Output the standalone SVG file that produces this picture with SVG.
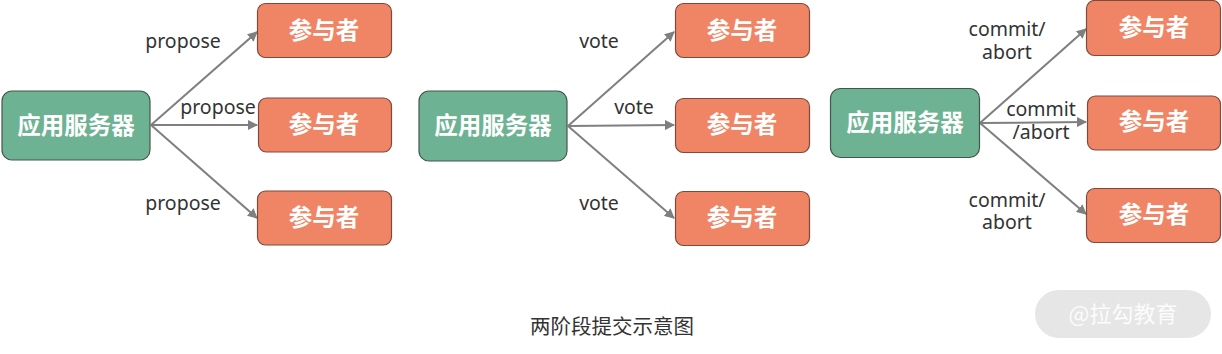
<svg xmlns="http://www.w3.org/2000/svg" width="1222" height="354" viewBox="0 0 1222 354">
<style>
.srv{fill:#6db393;stroke:#44574c;stroke-width:1.2}
.par{fill:#f08566;stroke:#7d4a3c;stroke-width:1.2}
.nt{font-family:"Noto Sans CJK SC","Noto Sans",sans-serif;font-size:23.5px;font-weight:bold;fill:#fff;text-anchor:middle;dominant-baseline:central}
.lb{font-family:"Noto Sans","Noto Sans CJK SC",sans-serif;font-size:19.5px;fill:#333;text-anchor:middle}
.ln{stroke:#7f7f7f;stroke-width:2;fill:none;marker-end:url(#ah)}
</style>
<defs>
<marker id="ah" viewBox="0 0 10 10" refX="9" refY="5" markerWidth="5" markerHeight="5" orient="auto" markerUnits="strokeWidth">
<path d="M0,0 L10,5 L0,10 z" fill="#7f7f7f"/>
</marker>
</defs>
<rect width="1222" height="354" fill="#fff"/>
<g id="connectors">
<line class="ln" x1="151" y1="125" x2="257" y2="32"/>
<line class="ln" x1="151" y1="125" x2="257" y2="125"/>
<line class="ln" x1="151" y1="125" x2="257" y2="218"/>
<line class="ln" x1="568" y1="126" x2="674" y2="32"/>
<line class="ln" x1="568" y1="126" x2="674" y2="125"/>
<line class="ln" x1="568" y1="126" x2="674" y2="218"/>
<line class="ln" x1="980" y1="123" x2="1086" y2="29"/>
<line class="ln" x1="980" y1="123" x2="1086" y2="122"/>
<line class="ln" x1="980" y1="123" x2="1086" y2="214"/>
<text class="lb" x="183" y="48">propose</text>
<text class="lb" x="218" y="114">propose</text>
<text class="lb" x="183" y="210">propose</text>
<text class="lb" x="599" y="48">vote</text>
<text class="lb" x="634" y="114">vote</text>
<text class="lb" x="599" y="210">vote</text>
<text class="lb" x="1007" y="36">commit/</text>
<text class="lb" x="1007" y="59">abort</text>
<text class="lb" x="1041" y="116">commit</text>
<text class="lb" x="1041" y="139">/abort</text>
<text class="lb" x="1007" y="207">commit/</text>
<text class="lb" x="1007" y="229">abort</text>
</g>
<g id="server1"><rect class="srv" x="2" y="91" width="148" height="69" rx="10"/><text class="nt" x="76" y="124">应用服务器</text></g>
<g id="p1a"><rect class="par" x="257.5" y="3.5" width="134" height="54" rx="8"/><text class="nt" x="324" y="29">参与者</text></g>
<g id="p1b"><rect class="par" x="258.5" y="98" width="133" height="54" rx="8"/><text class="nt" x="324" y="123">参与者</text></g>
<g id="p1c"><rect class="par" x="257.5" y="191" width="134" height="54" rx="8"/><text class="nt" x="324" y="216">参与者</text></g>
<g id="server2"><rect class="srv" x="419" y="91" width="148" height="70" rx="10"/><text class="nt" x="493" y="124">应用服务器</text></g>
<g id="p2a"><rect class="par" x="675.5" y="3.5" width="134" height="54" rx="8"/><text class="nt" x="742" y="29">参与者</text></g>
<g id="p2b"><rect class="par" x="675.5" y="98.5" width="134" height="54" rx="8"/><text class="nt" x="742" y="123">参与者</text></g>
<g id="p2c"><rect class="par" x="675.5" y="191.5" width="134" height="54" rx="8"/><text class="nt" x="742" y="216">参与者</text></g>
<g id="server3"><rect class="srv" x="830.5" y="88.5" width="149" height="69" rx="10"/><text class="nt" x="905" y="121">应用服务器</text></g>
<g id="p3a"><rect class="par" x="1086.5" y="0.5" width="134" height="55" rx="8"/><text class="nt" x="1154" y="26">参与者</text></g>
<g id="p3b"><rect class="par" x="1087.5" y="96" width="133" height="54" rx="8"/><text class="nt" x="1154" y="120">参与者</text></g>
<g id="p3c"><rect class="par" x="1086.5" y="188.5" width="134" height="54" rx="8"/><text class="nt" x="1154" y="213">参与者</text></g>
<g id="caption"><text x="612" y="334" font-family="Noto Sans CJK SC,sans-serif" font-size="20.5px" fill="#333" text-anchor="middle">两阶段提交示意图</text></g>
<g id="watermark"><rect x="1035" y="290" width="176" height="48" rx="24" fill="#e6e6e6"/><text x="1123" y="322" font-family="Noto Sans CJK SC,sans-serif" font-size="22px" fill="#fcfcfc" text-anchor="middle">@拉勾教育</text></g>
</svg>
